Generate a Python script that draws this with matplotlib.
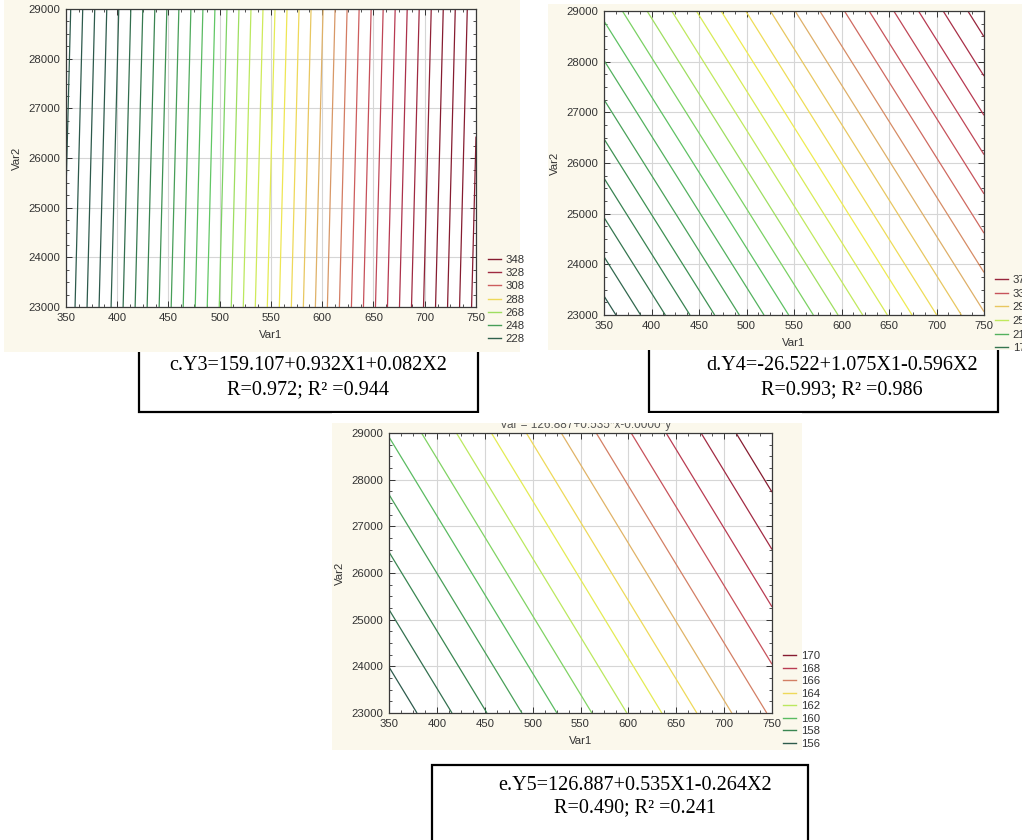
import numpy as np
import matplotlib.pyplot as plt
from matplotlib.colors import LinearSegmentedColormap, Normalize
from matplotlib.lines import Line2D
from matplotlib.patches import Rectangle
from matplotlib.ticker import MultipleLocator, AutoMinorLocator

plt.rcParams['font.family'] = ['Liberation Sans', 'DejaVu Sans']

# ---- data (fitted planes) ----
var1 = [350, 750]
var2 = [23000, 29000]

# z at the four corners: rows = Var2 (23000, 29000), cols = Var1 (350, 750)
z_c = [[212.99, 349.47], [210.43, 346.90]]
z_d = [[145.16, 299.16], [222.56, 376.56]]
z_e = [[155.20, 166.15], [160.07, 171.03]]

levels_c = [212, 216, 220, 224, 228, 232, 236, 240, 244, 248, 252, 256, 260, 264,
            268, 272, 276, 280, 284, 288, 292, 296, 300, 304, 308, 312, 316, 320,
            324, 328, 332, 336, 340, 344, 348]
levels_d = [150, 160, 170, 180, 190, 200, 210, 220, 230, 240, 250, 260,
            270, 280, 290, 300, 310, 320, 330, 340, 350, 360, 370]
levels_e = [156, 157, 158, 159, 160, 161, 162, 163, 164, 165, 166, 167, 168, 169, 170]

legend_c = [348, 328, 308, 288, 268, 248, 228]
legend_d = [370, 330, 290, 250, 210, 170]
legend_e = [170, 168, 166, 164, 162, 160, 158, 156]

captions = [
    ("c.Y3=159.107+0.932X1+0.082X2", "R=0.972; R\u00b2 =0.944"),
    ("d.Y4=-26.522+1.075X1-0.596X2", "R=0.993; R\u00b2 =0.986"),
    ("e.Y5=126.887+0.535X1-0.264X2", "R=0.490; R\u00b2 =0.241"),
]

# ---- figure ----
W, H = 1022, 840
fig = plt.figure(figsize=(W / 100, H / 100), dpi=100)
fig.patch.set_facecolor('white')

cmap = LinearSegmentedColormap.from_list('stat', [
    (0.00, '#2d5a4c'), (0.16, '#3b8c52'), (0.32, '#62c865'), (0.43, '#bde95e'),
    (0.52, '#eeec50'), (0.58, '#eed65a'), (0.66, '#dcaa6a'), (0.76, '#cc5a5e'),
    (0.88, '#b53650'), (1.00, '#861c30')])
cream = '#fbf8ec'


def fx(px):
    return px / W


def fy(py):
    return 1 - py / H


def rect_px(x0, y0, x1, y1, **kw):
    r = Rectangle((fx(x0), fy(y1)), fx(x1) - fx(x0), fy(y0) - fy(y1),
                  transform=fig.transFigure, **kw)
    fig.add_artist(r)


def panel(box, zgrid, levels, crange, leg_levels, leg_xy, leg_space):
    l, t, r, b = box
    ax = fig.add_axes([fx(l), fy(b), fx(r) - fx(l), fy(t) - fy(b)])
    ax.set_facecolor('white')
    norm = Normalize(*crange, clip=True)
    ax.contour(var1, var2, zgrid, levels=levels, cmap=cmap, norm=norm, linewidths=0.9)
    ax.set_xlim(350, 750)
    ax.set_ylim(23000, 29000)
    ax.xaxis.set_major_locator(MultipleLocator(50))
    ax.yaxis.set_major_locator(MultipleLocator(1000))
    ax.xaxis.set_minor_locator(AutoMinorLocator(4))
    ax.yaxis.set_minor_locator(AutoMinorLocator(4))
    ax.grid(True, color='#d6d6d6', lw=0.8)
    ax.set_axisbelow(True)
    ax.tick_params(which='both', direction='in', top=True, right=True,
                   labelsize=8.2, colors='#333333', pad=4)
    ax.tick_params(which='major', length=4, width=0.7)
    ax.tick_params(which='minor', length=2.2, width=0.6)
    for s in ax.spines.values():
        s.set_color('#3a3a3a')
        s.set_linewidth(0.9)
    ax.set_xlabel('Var1', fontsize=8.2, color='#333333', labelpad=5)
    ax.set_ylabel('Var2', fontsize=8.2, color='#333333', labelpad=5)
    handles = [Line2D([], [], color=cmap(norm(v)), lw=1.0) for v in leg_levels]
    ax.legend(handles, [str(v) for v in leg_levels], loc='upper left',
              bbox_to_anchor=(fx(leg_xy[0]), fy(leg_xy[1])), bbox_transform=fig.transFigure,
              frameon=False, fontsize=8.2, handlelength=1.15, handletextpad=0.4,
              labelspacing=leg_space, borderaxespad=0, borderpad=0,
              labelcolor='#333333')
    return ax


# cream panel backgrounds and caption boxes (box tops hidden behind panels)
rect_px(4, 0, 520, 352, facecolor=cream, edgecolor='none', zorder=-2)
rect_px(548, 4, 1022, 350, facecolor=cream, edgecolor='none', zorder=-2)
rect_px(332, 423, 802, 750, facecolor=cream, edgecolor='none', zorder=-2)

rect_px(139, 330, 478, 412, facecolor='white', edgecolor='black', lw=1.6, zorder=-3)
rect_px(649, 330, 998, 412, facecolor='white', edgecolor='black', lw=1.6, zorder=-3)
rect_px(432, 765, 808, 860, facecolor='white', edgecolor='black', lw=1.6, zorder=-3)

panel((66, 9, 476, 307), z_c, levels_c, (225, 335), legend_c, (488, 255), 0.28)
panel((604, 11, 984, 315), z_d, levels_d, (150, 380), legend_d, (995, 275), 0.32)
panel((389, 433, 772, 713), z_e, levels_e, (156, 170), legend_e, (783, 651), 0.22)

# half-hidden title of panel e
fig.text(fx(500), fy(428), 'Var = 126.887+0.535*x-0.0000*y', fontsize=8.5,
         color='#555555', va='baseline')
rect_px(332, 413, 802, 422.5, facecolor='white', edgecolor='none', zorder=4)

# captions
serif = ['Liberation Serif', 'DejaVu Serif']
cap_pos = [(308, 365, 390), (842, 365, 390), (635, 786, 808)]
for (l1, l2), (cx, y1, y2) in zip(captions, cap_pos):
    fig.text(fx(cx), fy(y1), l1, family=serif, fontsize=14.5, ha='center', va='center')
    fig.text(fx(cx), fy(y2), l2, family=serif, fontsize=14.5, ha='center', va='center')

fig.savefig('out.png', dpi=100, facecolor='white')
